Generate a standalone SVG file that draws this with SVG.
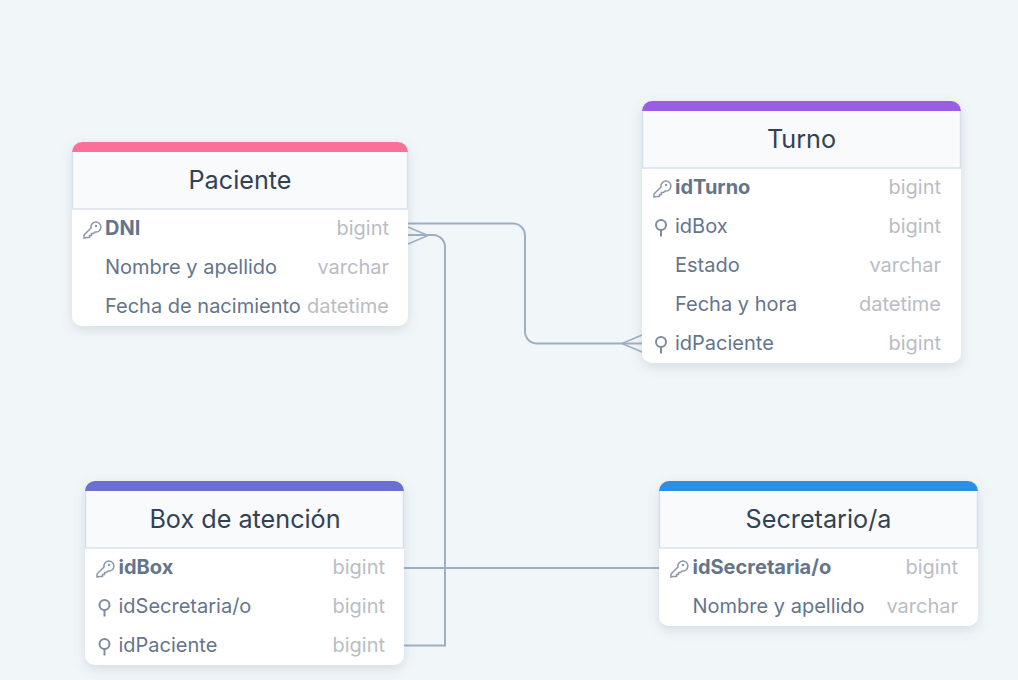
<svg xmlns="http://www.w3.org/2000/svg" width="1018" height="680" viewBox="0 0 1018 680">
<style>
text{font-family:Inter,"Noto Sans","Liberation Sans",sans-serif}
.title{font-size:25.2px;fill:#334155;text-anchor:middle}
.name{font-size:20px;fill:#64748b}
.pk{font-weight:700}
.type{font-size:20px;fill:#b9bdc3;text-anchor:end}
.hdr{fill:#f8fafc}
.sep{stroke:#d8e1ea;stroke-width:1.5;fill:none}
.conn{fill:none;stroke:#a0aec4;stroke-width:2}
.crow{fill:none;stroke:#a0aec4;stroke-width:1.5}
.ico{fill:none;stroke:#7f8c9e;stroke-width:2}
.kico{fill:none;stroke:#8c98a9;stroke-width:1.5}
</style>
<defs>
<filter id="sh" x="-10%" y="-10%" width="120%" height="125%"><feDropShadow dx="0" dy="4" stdDeviation="6" flood-color="#64748b" flood-opacity=".2"/></filter>
<g id="key"><path class="kico" d="M-8 8v-3l7-7a5 5 0 1 1 4 4l-1.500 1.500h-2v2h-2v2h-3z"/><circle cx="4" cy="-4" r="1.200" fill="#8c98a9"/></g>
<g id="fk"><circle class="ico" cx="0" cy="-3" r="5"/><path class="ico" d="M0 2V8.500"/></g>
</defs>
<rect width="1018" height="680" fill="#f1f6f9"/>
<g id="connectors">
<path class="conn" d="M408 223.500H513a12 12 0 0 1 12 12V331.500a12 12 0 0 0 12 12H642"/>
<path class="crow" d="M622 343.500L642 335M622 343.500L642 352"/>
<path class="conn" d="M404 645.500H445V247a12 12 0 0 0-12-12H408"/>
<path class="crow" d="M428 235.500L408 227M428 235.500L408 244"/>
<path class="conn" d="M404 568H659"/>
</g>
<g id="paciente">
<rect x="72" y="142" width="336" height="184" rx="10" fill="#fff" filter="url(#sh)"/>
<path d="M72 153v-1a10 10 0 0 1 10-10H398a10 10 0 0 1 10 10v1z" fill="#fb7099"/>
<rect class="hdr" x="72" y="152" width="336" height="57"/>
<path class="sep" d="M72 209H408M72.500 152V209M407.500 152V209"/>
<text class="title" x="240" y="189">Paciente</text>
<use href="#key" x="92" y="230"/><text class="name pk" x="105" y="235">DNI</text><text class="type" x="389" y="235">bigint</text>
<text class="name" x="105" y="274">Nombre y apellido</text><text class="type" x="389" y="274">varchar</text>
<text class="name" x="105" y="313">Fecha de nacimiento</text><text class="type" x="389" y="313">datetime</text>
</g>
<g id="turno">
<rect x="642" y="101" width="319" height="262" rx="10" fill="#fff" filter="url(#sh)"/>
<path d="M642 112v-1a10 10 0 0 1 10-10H951a10 10 0 0 1 10 10v1z" fill="#9b5de5"/>
<rect class="hdr" x="642" y="111" width="319" height="57"/>
<path class="sep" d="M642 168H961M642.500 111V168M960.500 111V168"/>
<text class="title" x="801.500" y="148">Turno</text>
<use href="#key" x="662" y="189"/><text class="name pk" x="675" y="194">idTurno</text><text class="type" x="941" y="194">bigint</text>
<use href="#fk" x="661" y="228"/><text class="name" x="675" y="233">idBox</text><text class="type" x="941" y="233">bigint</text>
<text class="name" x="675" y="272">Estado</text><text class="type" x="941" y="272">varchar</text>
<text class="name" x="675" y="311">Fecha y hora</text><text class="type" x="941" y="311">datetime</text>
<use href="#fk" x="661" y="345"/><text class="name" x="675" y="350">idPaciente</text><text class="type" x="941" y="350">bigint</text>
</g>
<g id="box">
<rect x="85" y="481" width="319" height="184" rx="10" fill="#fff" filter="url(#sh)"/>
<path d="M85 492v-1a10 10 0 0 1 10-10H394a10 10 0 0 1 10 10v1z" fill="#6a6fd0"/>
<rect class="hdr" x="85" y="491" width="319" height="57"/>
<path class="sep" d="M85 548H404M85.500 491V548M403.500 491V548"/>
<text class="title" x="245" y="528">Box de atención</text>
<use href="#key" x="105" y="569"/><text class="name pk" x="118.500" y="574">idBox</text><text class="type" x="385" y="574">bigint</text>
<use href="#fk" x="104.500" y="608"/><text class="name" x="118.500" y="613">idSecretaria/o</text><text class="type" x="385" y="613">bigint</text>
<use href="#fk" x="104.500" y="647"/><text class="name" x="118.500" y="652">idPaciente</text><text class="type" x="385" y="652">bigint</text>
</g>
<g id="secretario">
<rect x="659" y="481" width="319" height="145" rx="10" fill="#fff" filter="url(#sh)"/>
<path d="M659 492v-1a10 10 0 0 1 10-10H968a10 10 0 0 1 10 10v1z" fill="#2f8fdf"/>
<rect class="hdr" x="659" y="491" width="319" height="57"/>
<path class="sep" d="M659 548H978M659.500 491V548M977.500 491V548"/>
<text class="title" x="818.500" y="528">Secretario/a</text>
<use href="#key" x="679" y="569"/><text class="name pk" x="692.500" y="574">idSecretaria/o</text><text class="type" x="958" y="574">bigint</text>
<text class="name" x="692.500" y="613">Nombre y apellido</text><text class="type" x="958" y="613">varchar</text>
</g>
</svg>
